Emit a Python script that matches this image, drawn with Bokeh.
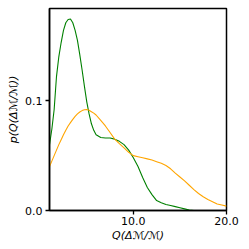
from bokeh.plotting import figure
from bokeh.models import FixedTicker, Range1d, CustomJSTickFormatter
from bokeh.embed import file_html
from bokeh.resources import INLINE

x_vals = [1.0, 1.25, 1.5, 1.75, 2.0, 2.25, 2.5, 2.75, 3.0, 3.25, 3.5, 3.75,
          4.0, 4.25, 4.5, 4.75, 5.0, 5.25, 5.5, 5.75, 6.0, 6.5, 7.0, 7.5,
          8.0, 8.5, 9.0, 9.5, 10.0, 10.5, 11.0, 11.5, 12.0, 12.5, 13.0, 13.5,
          14.0, 14.5, 15.0, 15.5, 16.0, 16.5, 17.0, 17.5, 18.0, 18.5, 19.0,
          19.5, 20.0]
green_vals = [0.060, 0.074, 0.092, 0.122, 0.140, 0.153, 0.164, 0.171, 0.174,
              0.1745, 0.171, 0.164, 0.155, 0.142, 0.128, 0.113, 0.099, 0.088,
              0.079, 0.073, 0.069, 0.0665, 0.066, 0.066, 0.065, 0.063, 0.060,
              0.055, 0.048, 0.040, 0.030, 0.021, 0.0145, 0.009, 0.007, 0.0055,
              0.0045, 0.0035, 0.0025, 0.0015, 0.0005, 0.0, 0.0, 0.0, 0.0, 0.0,
              0.0, 0.0, 0.0]
orange_vals = [0.040, 0.045, 0.050, 0.055, 0.060, 0.0645, 0.069, 0.073, 0.077,
               0.080, 0.083, 0.0857, 0.088, 0.0897, 0.091, 0.0917, 0.092,
               0.0913, 0.090, 0.0887, 0.087, 0.082, 0.077, 0.071, 0.065, 0.061,
               0.057, 0.053, 0.050, 0.049, 0.048, 0.047, 0.046, 0.0445, 0.043,
               0.041, 0.038, 0.034, 0.0305, 0.027, 0.023, 0.019, 0.0155, 0.0125,
               0.010, 0.008, 0.006, 0.005, 0.004]
x_ticks = [10.0, 20.0]
y_ticks = [0.0, 0.1]
x_label = "Q(Δℳ/ℳ)"
y_label = "p(Q(Δℳ/ℳ))"

p = figure(width=249, height=249, output_backend="svg",
           toolbar_location=None,
           x_range=Range1d(1.0, 20.0), y_range=Range1d(0.0, 0.184),
           min_border_left=49, min_border_right=23, min_border_top=8,
           min_border_bottom=39)

p.line(x_vals, green_vals, line_color="green", line_width=1.1)
p.line(x_vals, orange_vals, line_color="orange", line_width=1.1)

p.xgrid.visible = False
p.ygrid.visible = False
p.outline_line_color = "black"
p.outline_line_width = 1.5
p.background_fill_color = "white"
p.border_fill_color = "white"

for ax, ticks in ((p.xaxis[0], x_ticks), (p.yaxis[0], y_ticks)):
    ax.ticker = FixedTicker(ticks=ticks)
    ax.formatter = CustomJSTickFormatter(code="return tick.toFixed(1);")
    ax.minor_tick_line_color = None
    ax.major_tick_in = 0
    ax.major_tick_out = 4
    ax.major_tick_line_width = 1.3
    ax.axis_line_width = 1.5
    ax.axis_line_color = "black"
    ax.major_tick_line_color = "black"
    ax.major_label_text_font = "DejaVu Sans"
    ax.major_label_text_font_size = "11px"
    ax.major_label_text_color = "black"
    ax.axis_label_text_font = "DejaVu Sans"
    ax.axis_label_text_font_size = "11px"
    ax.axis_label_text_font_style = "italic"
    ax.axis_label_text_color = "black"

p.xaxis[0].major_label_standoff = 2
p.xaxis[0].axis_label_standoff = 1
p.yaxis[0].major_label_standoff = 3
p.yaxis[0].axis_label_standoff = 2

p.xaxis[0].axis_label = x_label
p.yaxis[0].axis_label = y_label

open("out.html", "w").write(file_html(p, INLINE))
